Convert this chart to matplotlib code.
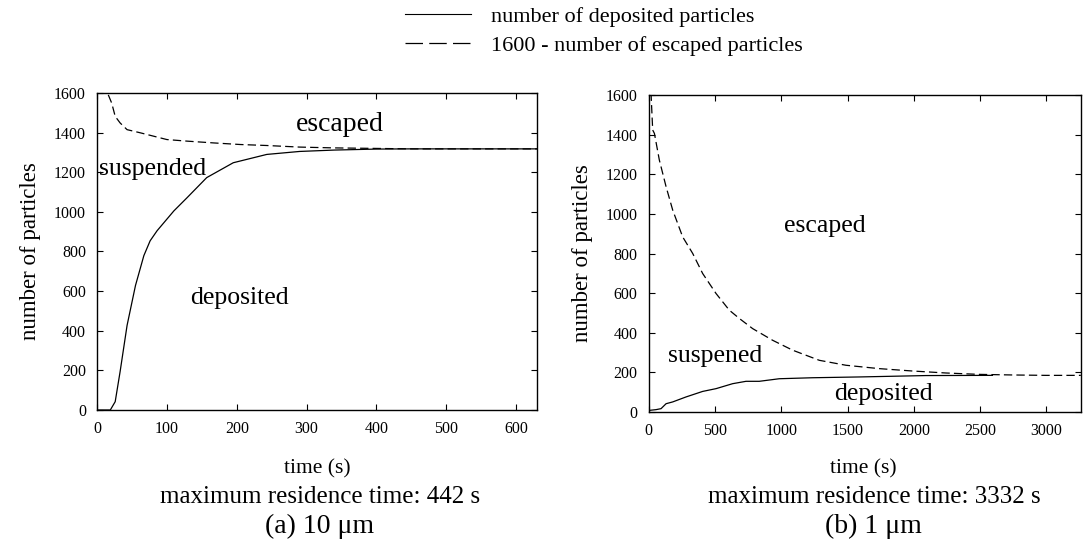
import matplotlib.pyplot as plt
from matplotlib.lines import Line2D

plt.rcParams['font.family'] = ['Liberation Serif', 'DejaVu Serif']
plt.rcParams['lines.scale_dashes'] = False

# (a) 10 um particles
t_dep_a = [0, 19, 26, 33, 43, 55, 67, 76, 86, 110, 129, 157, 195, 243, 290, 340, 400, 450, 630]
n_dep_a = [0, 0, 42, 193, 427, 628, 779, 854, 905, 1005, 1072, 1173, 1248, 1290, 1305, 1312, 1317, 1318, 1318]
t_esc_a = [0, 15, 21, 26, 33, 43, 62, 81, 100, 129, 167, 205, 243, 290, 338, 405, 450, 630]
n_esc_a = [1600, 1600, 1549, 1482, 1449, 1415, 1399, 1382, 1365, 1357, 1348, 1340, 1335, 1327, 1323, 1320, 1318, 1318]

# (b) 1 um particles
t_dep_b = [0, 55, 93, 131, 181, 281, 407, 508, 633, 734, 834, 985, 1236, 1588, 2091, 2593]
n_dep_b = [8, 12, 17, 42, 51, 76, 104, 118, 143, 155, 155, 168, 173, 177, 184, 185]
t_esc_b = [0, 18, 30, 43, 80, 131, 181, 256, 332, 407, 508, 608, 684, 784, 935, 1086, 1287,
           1488, 1739, 1990, 2242, 2493, 2744, 2996, 3260]
n_esc_b = [1600, 1600, 1423, 1406, 1272, 1137, 1019, 884, 800, 699, 598, 514, 472, 421, 362, 312, 261,
           236, 219, 207, 197, 190, 187, 185, 185]

fig = plt.figure(figsize=(10.83, 5.49), dpi=100)
ax1 = fig.add_axes([0.0896, 0.2532, 0.4064, 0.5774])
ax2 = fig.add_axes([0.599, 0.2495, 0.399, 0.5775])

ax1.plot(t_dep_a, n_dep_a, color='black', lw=0.9)
ax1.plot(t_esc_a, n_esc_a, color='black', lw=0.9, dashes=(6, 3))
ax2.plot(t_dep_b, n_dep_b, color='black', lw=0.9)
ax2.plot(t_esc_b, n_esc_b, color='black', lw=0.9, dashes=(6, 3))

ax1.set_xlim(0, 630)
ax1.set_xticks(range(0, 601, 100))
ax2.set_xlim(0, 3260)
ax2.set_xticks(range(0, 3001, 500))

for ax in (ax1, ax2):
    ax.set_ylim(0, 1600)
    ax.set_yticks(range(0, 1601, 200))
    ax.tick_params(direction='in', top=True, right=True, length=4, width=0.8,
                   labelsize=11.5, pad=8)
    ax.set_ylabel('number of particles', fontsize=16.5, labelpad=9)
    for s in ax.spines.values():
        s.set_linewidth(1.0)

ax1.text(347, 1440, 'escaped', fontsize=20, ha='center', va='center')
ax1.text(80, 1215, 'suspended', fontsize=18.5, ha='center', va='center')
ax1.text(204, 565, 'deposited', fontsize=18.5, ha='center', va='center')

ax2.text(1330, 940, 'escaped', fontsize=18.5, ha='center', va='center')
ax2.text(500, 285, 'suspened', fontsize=18.5, ha='center', va='center')
ax2.text(1770, 90, 'deposited', fontsize=18.5, ha='center', va='center')

fig.text(317 / 1083, 1 - 469 / 549, 'time (s)', fontsize=15.5, ha='center', va='center')
fig.text(863 / 1083, 1 - 469 / 549, 'time (s)', fontsize=15.5, ha='center', va='center')
fig.text(320 / 1083, 1 - 497 / 549, 'maximum residence time: 442 s', fontsize=18,
         ha='center', va='center')
fig.text(874 / 1083, 1 - 497 / 549, 'maximum residence time: 3332 s', fontsize=18,
         ha='center', va='center')
fig.text(320 / 1083, 1 - 526 / 549, '(a) 10 μm', fontsize=20, ha='center', va='center')
fig.text(873 / 1083, 1 - 526 / 549, '(b) 1 μm', fontsize=20, ha='center', va='center')

handles = [Line2D([], [], color='black', lw=0.8),
           Line2D([], [], color='black', lw=0.9, dashes=(12.6, 4.5))]
labels = ['number of deposited particles', '1600 - number of escaped particles']
fig.legend(handles, labels, loc='upper left', bbox_to_anchor=(405 / 1083, 1 - 6 / 549),
           frameon=False, fontsize=16, handlelength=2.95, handletextpad=0.9,
           borderpad=0, borderaxespad=0, labelspacing=0.38)

fig.savefig('out.png', dpi=100)
